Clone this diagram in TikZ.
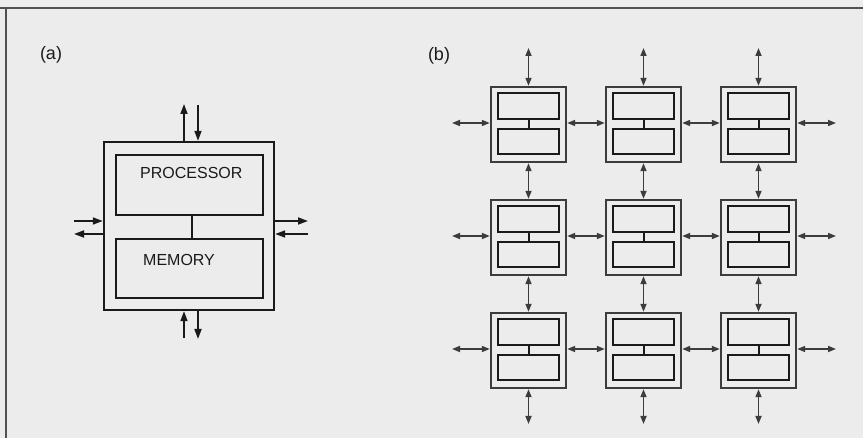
\documentclass[tikz,border=0pt]{standalone}
\usepackage{fontspec}
\setmainfont{Liberation Sans}
\usetikzlibrary{arrows.meta}
\definecolor{bg}{HTML}{ECECEC}
\definecolor{ink}{HTML}{1A1A1A}
\definecolor{frame}{HTML}{505050}
\begin{document}
\begin{tikzpicture}[x=1pt,y=-1pt,
  boxA/.style={draw=ink,line width=2.4pt,inner sep=0pt},
  txt/.style={font=\fontsize{16}{18}\selectfont,text=ink,inner sep=0pt},
  lbl/.style={font=\fontsize{18}{20}\selectfont,text=ink,inner sep=0pt},
  aarr/.style={draw=ink,line width=1.7pt,arrows={-Triangle[length=10pt,width=7pt]}},
  cellO/.style={draw=ink!85,line width=2.4pt,minimum width=75pt,minimum height=75pt,inner sep=0pt},
  cellI/.style={draw=ink,line width=2.8pt,minimum width=61pt,inner sep=0pt},
  link/.style={draw=ink,line width=2pt},
  barr/.style={draw=ink!85,line width=1.6pt,arrows={Triangle[length=8pt,width=6pt]-Triangle[length=8pt,width=6pt]}},
  frm/.style={draw=frame,line width=1.2pt}]
\useasboundingbox[fill=bg] (0,0) rectangle (863,438);
% frame
\coordinate (fTL) at (6,8);
\coordinate (fTR) at (863,8);
\coordinate (fT0) at (0,8);
\coordinate (fBL) at (6,438);
\draw[frm] (fT0) -- (fTR);
\draw[frm] (fTL) -- (fBL);
% labels
\node[lbl] (la) at (51,55) {(a)};
\node[lbl] (lb) at (439,56) {(b)};
% ---- panel (a)
\node[boxA,minimum width=170pt,minimum height=168pt] (A) at (189,226) {};
\node[boxA,minimum width=147pt,minimum height=60pt] (Aproc) at (189.5,185) {};
\node[boxA,minimum width=147pt,minimum height=59pt] (Amem) at (189.5,268.5) {};
\node[txt,anchor=west] (tproc) at (140,172.5) {PROCESSOR};
\node[txt,anchor=west] (tmem) at (143,259.5) {MEMORY};
\coordinate (aC) at (192,0);
\draw[link] (aC |- Aproc.south) -- (aC |- Amem.north);
\coordinate (aT1) at (184,104);
\coordinate (aT2) at (198,105);
\coordinate (aB1) at (184,338);
\coordinate (aB2) at (198,339);
\coordinate (aL1) at (74,221);
\coordinate (aL2) at (74,234);
\coordinate (aR1) at (308,221);
\coordinate (aR2) at (308,234);
\draw[aarr] (aT1 |- A.north) -- (aT1);
\draw[aarr] (aT2) -- (aT2 |- A.north);
\draw[aarr] (aB1) -- (aB1 |- A.south);
\draw[aarr] (aB2 |- A.south) -- (aB2);
\draw[aarr] (aL1) -- (A.west |- aL1);
\draw[aarr] (A.west |- aL2) -- (aL2);
\draw[aarr] (A.east |- aR1) -- (aR1);
\draw[aarr] (aR2) -- (A.east |- aR2);
% ---- panel (b)
\foreach \r/\yy in {1/124.5,2/237.5,3/350.5} {
  \foreach \c/\xx in {1/528.5,2/643.5,3/758.5} {
    \node[cellO] (b\r\c) at (\xx,\yy) {};
    \node[cellI,minimum height=26pt] (b\r\c t) at (\xx,\yy-18.5) {};
    \node[cellI,minimum height=25pt] (b\r\c m) at (\xx,\yy+17) {};
    \draw[link] (b\r\c t.south) -- (b\r\c m.north);
  }
  \coordinate (eL\r) at (452,\yy-1.5);
  \coordinate (eR\r) at (836,\yy-1.5);
  \draw[barr] (eL\r) -- (b\r1.west |- eL\r);
  \draw[barr] (b\r1.east |- eL\r) -- (b\r2.west |- eL\r);
  \draw[barr] (b\r2.east |- eL\r) -- (b\r3.west |- eL\r);
  \draw[barr] (b\r3.east |- eR\r) -- (eR\r);
}
\foreach \c/\xx in {1/528.5,2/643.5,3/758.5} {
  \coordinate (eT\c) at (\xx,48);
  \coordinate (eB\c) at (\xx,424);
  \draw[barr] (eT\c) -- (b1\c.north);
  \draw[barr] (b1\c.south) -- (b2\c.north);
  \draw[barr] (b2\c.south) -- (b3\c.north);
  \draw[barr] (b3\c.south) -- (eB\c);
}
\end{tikzpicture}
\end{document}
